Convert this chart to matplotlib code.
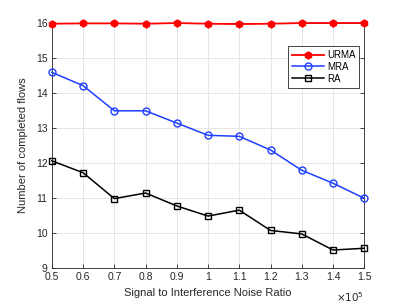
import matplotlib
matplotlib.use("Agg")
import matplotlib.pyplot as plt

x = [0.5, 0.6, 0.7, 0.8, 0.9, 1.0, 1.1, 1.2, 1.3, 1.4, 1.5]
urma = [15.98, 15.99, 15.99, 15.98, 16.0, 15.98, 15.97, 15.98, 16.0, 16.0, 16.0]
mra = [14.59, 14.21, 13.49, 13.49, 13.14, 12.79, 12.76, 12.37, 11.79, 11.42, 10.99]
ra = [12.06, 11.72, 10.98, 11.14, 10.77, 10.48, 10.65, 10.07, 9.97, 9.51, 9.56]
xticks = [0.5, 0.6, 0.7, 0.8, 0.9, 1.0, 1.1, 1.2, 1.3, 1.4, 1.5]
xticklabels = ["0.5", "0.6", "0.7", "0.8", "0.9", "1", "1.1", "1.2", "1.3", "1.4", "1.5"]
yticks = [9, 10, 11, 12, 13, 14, 15, 16]

plt.rcParams['font.family'] = ['Liberation Sans', 'DejaVu Sans']
fig = plt.figure(figsize=(4.02, 3.03), dpi=100)
ax = fig.add_axes([0.129, 0.116, 0.777, 0.808])

ax.plot(x, urma, color='red', marker='h', markersize=5, linewidth=1.3,
        markerfacecolor='red', markeredgecolor='red', label='URMA', clip_on=False, zorder=5)
ax.plot(x, mra, color='#1f3fff', marker='o', markersize=5, linewidth=1.1,
        markerfacecolor='none', markeredgewidth=1.0, label='MRA', clip_on=False, zorder=4)
ax.plot(x, ra, color='black', marker='s', markersize=4.5, linewidth=1.1,
        markerfacecolor='none', markeredgewidth=1.0, label='RA', clip_on=False, zorder=4)

ax.set_xlim(0.5, 1.5)
ax.set_ylim(9, 16)
ax.set_xticks(xticks)
ax.set_xticklabels(xticklabels)
ax.set_yticks(yticks)
ax.grid(True, color='#e3e3e3', linewidth=0.6)
ax.set_axisbelow(True)
ax.tick_params(direction='in', top=True, right=True, labelsize=7.5,
               colors='#262626', length=3, width=0.6, pad=3)
for s in ax.spines.values():
    s.set_color('#262626')
    s.set_linewidth(0.6)

ax.set_xlabel('Signal to Interference Noise Ratio', fontsize=8, color='#262626', labelpad=4)
ax.set_ylabel('Number of completed flows', fontsize=8, color='#262626', labelpad=6)
ax.text(1.0, -0.09, r'$\times10^5$', transform=ax.transAxes, ha='right', va='top',
        fontsize=7.5, color='#262626')

leg = ax.legend(loc='upper left', bbox_to_anchor=(0.756, 0.906), fontsize=7,
                frameon=True, fancybox=False, edgecolor='#262626', framealpha=1,
                borderpad=0.4, labelspacing=0.2, handlelength=3.3, handletextpad=0.3,
                borderaxespad=0)
leg.get_frame().set_linewidth(0.6)

fig.savefig('out.png', dpi=100)
